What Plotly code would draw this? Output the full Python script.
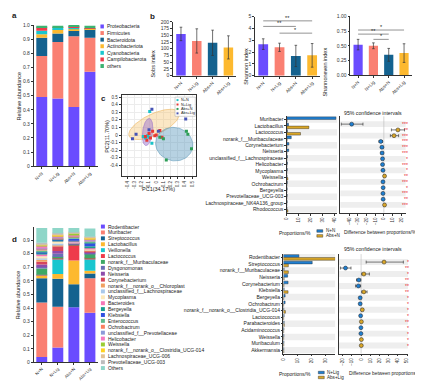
import numpy as np
import plotly.graph_objects as go

W, H = 423, 381
FONT = "Liberation Sans, Arial, sans-serif"

groups = ["N+N", "N+Lig", "Abs+N", "Abs+Lig"]
group_colors = ["#6a4cff", "#fa8072", "#14628f", "#fdb92f"]

# ---------------- panel a: phylum composition ----------------
a_phyla = ["Proteobacteria", "Firmicutes", "Bacteroidota", "Actinobacteriota",
           "Cyanobacteria", "Campilobacterota", "others"]
a_colors = ["#6a4cff", "#fa8072", "#14628f", "#fdb92f", "#19c6cf", "#ee3b4b", "#3cb371"]
a_values = [
    [0.49, 0.48, 0.42, 0.67],
    [0.29, 0.40, 0.50, 0.24],
    [0.13, 0.06, 0.04, 0.06],
    [0.025, 0.03, 0.01, 0.003],
    [0.025, 0.01, 0.015, 0.002],
    [0.025, 0.005, 0.003, 0.002],
    [0.01, 0.01, 0.007, 0.018],
]

# ---------------- panel b: alpha diversity ----------------
sobs_mean = [155, 129, 122, 105]
sobs_err = [25, 45, 47, 43]
shannon_mean = [2.67, 2.40, 1.67, 1.72]
shannon_err = [0.45, 0.35, 0.90, 1.00]
even_mean = [0.52, 0.50, 0.345, 0.375]
even_err = [0.09, 0.05, 0.11, 0.16]
shannon_sig = [[0, 3, 4.64, "**"], [0, 2, 4.17, "**"], [1, 3, 3.60, "*"]]
even_sig = [[0, 3, 0.77, "*"], [0, 2, 0.70, "**"], [1, 2, 0.61, "*"]]

# ---------------- panel c: PCA ----------------
pca_groups = ["N+N", "N+Lig", "Abs+N", "Abs+Lig"]
pca_colors = ["#19c3c9", "#e53935", "#2e9e57", "#4653b5"]
pca_x = [
    [-0.09, -0.18, -0.15, -0.12, -0.06, -0.10],
    [-0.10, -0.05, -0.02, 0.05, -0.13, -0.08, 0.00, -0.15, 0.08],
    [0.42, 0.44, 0.49, 0.14, 0.10, 0.05],
    [-0.06, 0.41, -0.33, -0.28, -0.10, 0.03],
]
pca_y = [
    [0.31, -0.02, -0.04, -0.01, -0.11, -0.03],
    [0.02, 0.05, -0.01, 0.06, -0.07, -0.04, 0.00, -0.02, -0.03],
    [0.05, 0.01, -0.18, -0.33, -0.05, -0.03],
    [0.34, 0.21, -0.05, 0.01, 0.07, 0.05],
]
# ellipses: center x, center y, semi-major, semi-minor, angle (deg)
ell_cx = [-0.03, 0.25, -0.12]
ell_cy = [0.14, -0.12, 0.04]
ell_a = [0.38, 0.26, 0.18]
ell_b = [0.14, 0.22, 0.07]
ell_ang = [24, -10, 82]
ell_fill = ["rgba(246,196,110,0.40)", "rgba(95,155,190,0.45)", "rgba(160,120,210,0.50)"]
ell_line = ["rgba(235,175,80,0.9)", "rgba(90,150,185,0.9)", "rgba(150,110,200,0.9)"]

# ---------------- panel c: Welch test N+N vs Abs+N ----------------
c_rows = ["Muribacter", "Lactobacillus", "Lactococcus", "norank_f__Muribaculaceae",
          "Corynebacterium", "Neisseria", "unclassified_f__Lachnospiraceae",
          "Helicobacter", "Mycoplasma", "Weissella", "Ochrobactrum", "Bergeyella",
          "Prevotellaceae_UCG-003", "Lachnospiraceae_NK4A136_group", "Rhodococcus"]
c_prop_a = [41, 1.5, 0.6, 3.8, 1.8, 1.7, 0.6, 0.6, 0.5, 0.3, 0.5, 0.4, 0.4, 0.4, 0.2]
c_prop_b = [0.3, 18.5, 11.5, 0.3, 0.1, 0.1, 0.1, 0.1, 0.1, 1.0, 0.1, 0.1, 0.1, 0.1, 1.0]
c_diff = [-37, 16.2, 11.7, -3.5, -2.2, -2.0, -1.5, -1.5, -1.0, 0.8, -1.0, -0.8, -1.0, -0.8, 0.8]
c_lo = [-49, 8.7, 7.5, -5.5, -3.2, -3.3, -2.3, -2.3, -1.8, 0.2, -1.8, -1.5, -1.7, -1.4, 0.3]
c_hi = [-24, 23.8, 17.0, -1.5, -1.0, -0.8, -0.7, -0.6, -0.3, 1.4, -0.3, -0.2, -0.4, -0.2, 1.4]
c_sig = ["***", "**", "***", "***", "***", "***", "*", "***", "*", "**", "***", "*", "***", "**", "***"]
c_legend = ["N+N", "Abs+N"]

# ---------------- panel d: genus composition ----------------
d_genera = ["Rodentibacter", "Muribacter", "Streptococcus", "Lactobacillus", "Veillonella",
            "Lactococcus", "norank_f__Muribaculaceae", "Dysgonomonas", "Neisseria",
            "Corynebacterium", "norank_f__norank_o__Chloroplast", "unclassified_f__Lachnospiraceae",
            "Mycoplasma", "Bacteroides", "Bergeyella", "Klebsiella", "Enterococcus",
            "Ochrobactrum", "unclassified_f__Prevotellaceae", "Helicobacter", "Weissella",
            "norank_f__norank_o__Clostridia_UCG-014", "Lachnospiraceae_UCG-006",
            "Prevotellaceae_UCG-003", "Others"]
d_colors = ["#6a4cff", "#fa8072", "#14628f", "#fdb92f", "#19c6cf", "#ee3b4b", "#3ea865",
            "#6b6fb5", "#8e4bab", "#d6455c", "#f0a060", "#a9c8ea", "#fde8b8", "#f777b8",
            "#1a9e8f", "#3050e0", "#5dbb8d", "#fa8060", "#8c9ad8", "#f57ac0", "#9acd32",
            "#ffd21f", "#e2c396", "#bdbdbd", "#8fd6c8"]
d_values = [
    [0.040, 0.110, 0.405, 0.365],
    [0.400, 0.300, 0.000, 0.255],
    [0.180, 0.205, 0.170, 0.035],
    [0.020, 0.035, 0.175, 0.020],
    [0.003, 0.110, 0.000, 0.085],
    [0.003, 0.005, 0.115, 0.005],
    [0.045, 0.010, 0.005, 0.035],
    [0.010, 0.025, 0.002, 0.005],
    [0.020, 0.020, 0.003, 0.010],
    [0.020, 0.035, 0.003, 0.005],
    [0.015, 0.010, 0.002, 0.005],
    [0.015, 0.010, 0.003, 0.005],
    [0.010, 0.015, 0.005, 0.005],
    [0.015, 0.005, 0.002, 0.005],
    [0.010, 0.005, 0.005, 0.015],
    [0.008, 0.005, 0.015, 0.025],
    [0.010, 0.005, 0.015, 0.010],
    [0.008, 0.005, 0.005, 0.005],
    [0.012, 0.005, 0.003, 0.005],
    [0.012, 0.008, 0.005, 0.005],
    [0.005, 0.004, 0.012, 0.003],
    [0.006, 0.008, 0.003, 0.008],
    [0.006, 0.005, 0.002, 0.004],
    [0.007, 0.005, 0.003, 0.005],
    [0.110, 0.040, 0.032, 0.060],
]

# ---------------- panel d: Welch test N+Lig vs Abs+Lig ----------------
d_rows = ["Rodentibacter", "Streptococcus", "norank_f__Muribaculaceae", "Neisseria",
          "Corynebacterium", "Klebsiella", "Bergeyella", "Ochrobactrum",
          "norank_f__norank_o__Clostridia_UCG-014", "Lactococcus", "Parabacteroides",
          "Acidaminococcus", "Weissella", "Muribaculum", "Akkermansia"]
d_prop_a = [11, 20.5, 0.5, 3.0, 3.3, 0.5, 1.2, 1.2, 0.3, 0.5, 0.5, 0.4, 0.4, 0.4, 0.3]
d_prop_b = [37, 3.5, 3.5, 0.5, 0.4, 3.3, 0.2, 0.2, 1.4, 0.2, 0.6, 0.2, 0.2, 0.3, 0.3]
d_diff = [25, -17, 3.0, -2.5, -3.0, 3.0, -1.0, -1.0, 1.3, -0.5, 0.3, -0.2, -0.2, 0.3, 0.2]
d_lo = [5.5, -22.5, 0.7, -5.0, -6.0, 0.7, -1.8, -1.8, 0.4, -1.0, -0.3, -0.7, -0.7, -0.2, -0.4]
d_hi = [46, -11, 9.0, -0.3, -0.5, 6.5, -0.2, -0.2, 2.5, 0.0, 0.9, 0.3, 0.3, 0.8, 0.8]
d_sig = ["*", "**", "*", "**", "**", "**", "*", "*", "*", "*", "**", "*", "*", "*", "*"]
d_legend = ["N+Lig", "Abs+Lig"]

CI_BLUE = "#1f7fd1"
CI_ORANGE = "#d9a628"
SIG_RED = "#e8242c"


def xd(p0, p1):
    return [p0 / W, p1 / W]


def yd(top, bot):
    return [1 - bot / H, 1 - top / H]


def px(x):
    return x / W


def py(y):
    return 1 - y / H


def base_axis(**kw):
    d = dict(showline=True, linecolor="#333", linewidth=0.8, ticks="outside", ticklen=2,
             tickwidth=0.6, tickcolor="#333", tickfont=dict(size=5, color="#333", family=FONT),
             showgrid=False, zeroline=False, fixedrange=True)
    d.update(kw)
    return d


fig = go.Figure()
lay = {}
shapes = []
anns = []


def ann(x, y, text, size=5, color="#222", angle=0, xanchor="center", yanchor="middle", bold=False):
    t = "<b>%s</b>" % text if bold else text
    anns.append(dict(x=px(x), y=py(y), xref="paper", yref="paper", text=t, showarrow=False,
                     textangle=angle, xanchor=xanchor, yanchor=yanchor,
                     font=dict(size=size, color=color, family=FONT)))


def rect(x0, y0, x1, y1, color, line="rgba(0,0,0,0)", lw=0):
    shapes.append(dict(type="rect", xref="paper", yref="paper", x0=px(x0), x1=px(x1),
                       y0=py(y1), y1=py(y0), fillcolor=color, line=dict(color=line, width=lw)))


gx = list(range(len(groups)))
GROUP_TICKFONT = dict(size=4.6, color="#333", family=FONT)

# ---------- panel a ----------
cum = np.zeros(len(groups))
for name, col, vals in zip(a_phyla, a_colors, a_values):
    fig.add_trace(go.Bar(x=gx, y=vals, base=cum.copy(), width=0.68, marker=dict(color=col, line=dict(width=0)),
                         xaxis="x", yaxis="y", showlegend=False, name=name))
    cum = cum + np.array(vals)
ticks01 = [round(0.1 * i, 1) for i in range(11)]
lay["xaxis"] = base_axis(domain=xd(23, 88), range=[-0.5, 3.5], tickvals=gx, ticktext=groups,
                         tickangle=-45, anchor="y", tickfont=GROUP_TICKFONT)
lay["yaxis"] = base_axis(domain=yd(14.3, 157.7), range=[0, 1.0], tickvals=ticks01,
                         ticktext=["0"] + [str(t) for t in ticks01[1:]], anchor="x")
for i, (name, col) in enumerate(zip(a_phyla, a_colors)):
    yy = 15.7 + i * 6.7
    rect(90.5, yy - 2, 94, yy + 2, col)
    ann(95, yy, name, size=5, xanchor="left")
ann(8, 86, "Relative abundance", size=5.5, angle=-90)
ann(4, 5, "a", size=8, bold=True)

# ---------- panel b ----------
bspecs = [
    ("x2", "y2", sobs_mean, sobs_err, xd(164, 228), yd(11, 65.7), [0, 200], list(range(0, 201, 25)),
     None, None, "Sobs index", 144),
    ("x3", "y3", shannon_mean, shannon_err, xd(247, 313), yd(5.7, 65.7), [0, 5], [0, 1, 2, 3, 4, 5],
     None, shannon_sig, "Shannon index", 237),
    ("x4", "y4", even_mean, even_err, xd(343.5, 405.5), yd(5.7, 65), [0, 1.0], [0, 0.25, 0.5, 0.75, 1.0],
     ["0.00", "0.25", "0.50", "0.75", "1.00"], even_sig, "Shannoneven index", 323),
]
for xa, ya, mean, err, xdom, ydom, yr, tv, tt, sig, title, tx in bspecs:
    fig.add_trace(go.Bar(x=gx, y=mean, width=0.6, marker=dict(color=group_colors, line=dict(width=0)),
                         error_y=dict(type="data", array=err, color="#333", thickness=0.7, width=1.3),
                         xaxis=xa, yaxis=ya, showlegend=False))
    n = xa[1:]
    lay["xaxis" + n] = base_axis(domain=xdom, range=[-0.5, 3.5], tickvals=gx, ticktext=groups,
                                 tickangle=-45, anchor=ya, tickfont=GROUP_TICKFONT)
    yax = base_axis(domain=ydom, range=yr, tickvals=tv, anchor=xa)
    if tt:
        yax["ticktext"] = tt
    lay["yaxis" + n] = yax
    ymid = (ydom[0] + ydom[1]) / 2
    anns.append(dict(x=px(tx), y=ymid, xref="paper", yref="paper", text=title, showarrow=False,
                     textangle=-90, font=dict(size=5.5, color="#222", family=FONT)))
    if sig:
        for g0, g1, yv, s in sig:
            fig.add_trace(go.Scatter(x=[g0, g1], y=[yv, yv], mode="lines", line=dict(color="#777", width=0.8),
                                     xaxis=xa, yaxis=ya, showlegend=False, hoverinfo="skip"))
            anns.append(dict(x=(g0 + g1) / 2, y=yv, xref=xa, yref=ya, text=s, showarrow=False,
                             yanchor="bottom", yshift=-2, font=dict(size=5.5, color="#222", family=FONT)))
ann(143, 6, "b", size=8, bold=True)

# ---------- panel c: PCA ----------
t = np.linspace(0, 2 * np.pi, 100)
for cx, cy, a, b, ang, fc, lc in zip(ell_cx, ell_cy, ell_a, ell_b, ell_ang, ell_fill, ell_line):
    th = np.deg2rad(ang)
    ex = cx + a * np.cos(t) * np.cos(th) - b * np.sin(t) * np.sin(th)
    ey = cy + a * np.cos(t) * np.sin(th) + b * np.sin(t) * np.cos(th)
    fig.add_trace(go.Scatter(x=ex, y=ey, mode="lines", fill="toself", fillcolor=fc,
                             line=dict(color=lc, width=0.6), xaxis="x5", yaxis="y5",
                             showlegend=False, hoverinfo="skip"))
for gname, col, xs, ys in zip(pca_groups, pca_colors, pca_x, pca_y):
    fig.add_trace(go.Scatter(x=xs, y=ys, mode="markers", marker=dict(color=col, size=3, symbol="square"),
                             xaxis="x5", yaxis="y5", showlegend=False, name=gname))
pca_ticks = [round(-0.4 + 0.1 * i, 1) for i in range(10)]
lay["xaxis5"] = base_axis(domain=xd(112, 187), range=[-0.48, 0.55], tickvals=pca_ticks,
                          ticktext=[("%g" % v) for v in pca_ticks], tickangle=-90, mirror=True,
                          showgrid=True, gridcolor="#ececec", gridwidth=0.5,
                          tickfont=dict(size=4.5, color="#333", family=FONT), anchor="y5")
lay["yaxis5"] = base_axis(domain=yd(85.5, 168), range=[-0.545, 0.526], tickvals=pca_ticks + [0.5],
                          ticktext=[("%g" % v) for v in pca_ticks + [0.5]], mirror=True,
                          showgrid=True, gridcolor="#ececec", gridwidth=0.5,
                          tickfont=dict(size=4.5, color="#333", family=FONT), anchor="x5")
rect(166, 87.5, 186.5, 107, "rgba(255,255,255,0.85)", "#999", 0.4)
for i, (gname, col) in enumerate(zip(pca_groups, pca_colors)):
    yy = 90.5 + i * 4.5
    rect(167.5, yy - 1, 169.5, yy + 1, col)
    ann(170.3, yy, gname, size=3.8, xanchor="left")
ann(97, 127, "PC2(11.70%)", size=5.5, angle=-90)
ann(149, 181, "PC1(34.17%)", size=5.5)
ann(94, 89, "c", size=8, bold=True)


# ---------- Welch panels (c right, d right) ----------
def welch(xb, yb, xc, yc, rows, pa, pb, diff, lo, hi, sig, xdom_b, xdom_c, ydom, rng_b, tv_b, rng_c, tv_c,
          sig_x, title_y, foot_y, legend_names, prop_x, diff_x, leg_x, leg_y0):
    nb, nc = xb[1:], xc[1:]
    fig.add_trace(go.Bar(y=rows, x=pa, orientation="h", width=0.4, offset=-0.42,
                         marker=dict(color=CI_BLUE, line=dict(color="#222", width=0.4)),
                         xaxis=xb, yaxis=yb, showlegend=False))
    fig.add_trace(go.Bar(y=rows, x=pb, orientation="h", width=0.4, offset=0.02,
                         marker=dict(color=CI_ORANGE, line=dict(color="#222", width=0.4)),
                         xaxis=xb, yaxis=yb, showlegend=False))
    d = np.array(diff)
    fig.add_trace(go.Scatter(x=diff, y=rows, mode="markers",
                             marker=dict(color=[CI_BLUE if v < 0 else CI_ORANGE for v in diff], size=4,
                                         line=dict(color="#222", width=0.5)),
                             error_x=dict(type="data", symmetric=False, array=list(np.array(hi) - d),
                                          arrayminus=list(d - np.array(lo)), color="#222", thickness=0.6,
                                          width=1.5),
                             xaxis=xc, yaxis=yc, showlegend=False))
    for i in range(len(rows)):
        if i % 2 == 0:
            for xa, ya in ((xb, yb), (xc, yc)):
                shapes.append(dict(type="rect", xref=xa + " domain", yref=ya, x0=0, x1=1, y0=i - 0.5,
                                   y1=i + 0.5, fillcolor="#eeeeee", line=dict(width=0), layer="below"))
        anns.append(dict(x=px(sig_x), y=rows[i], xref="paper", yref=yc, text=sig[i], showarrow=False,
                         font=dict(size=5, color=SIG_RED, family=FONT)))
    shapes.append(dict(type="line", xref=xc, yref=yc + " domain", x0=0, x1=0, y0=0, y1=1,
                       line=dict(color="#bbbbbb", width=0.6), layer="below"))
    lay["xaxis" + nb] = base_axis(domain=xdom_b, range=rng_b, tickvals=tv_b, tickangle=-90, anchor=yb,
                                  tickfont=dict(size=4.5, color="#333", family=FONT))
    lay["yaxis" + nb] = base_axis(domain=ydom, type="category", categoryorder="array", categoryarray=rows,
                                  autorange="reversed", anchor=xb, ticklen=1.5,
                                  tickfont=dict(size=5, color="#222", family=FONT))
    lay["xaxis" + nc] = base_axis(domain=xdom_c, range=rng_c, tickvals=tv_c, tickangle=-90, anchor=yc,
                                  tickfont=dict(size=4.5, color="#333", family=FONT))
    lay["yaxis" + nc] = base_axis(domain=ydom, type="category", categoryorder="array", categoryarray=rows,
                                  autorange="reversed", anchor=xc, showticklabels=False, ticks="")
    ann((xdom_c[0] + xdom_c[1]) / 2 * W, title_y, "95% confidence intervals", size=5.2)
    ann(prop_x, foot_y, "Proportions/%", size=5)
    ann(diff_x, foot_y, "Difference between proportions/%", size=4.8)
    for k, (nm, col) in enumerate(zip(legend_names, [CI_BLUE, CI_ORANGE])):
        yy = leg_y0 + k * 5
        rect(leg_x, yy - 1.3, leg_x + 6, yy + 1.3, col, "#222", 0.4)
        ann(leg_x + 7, yy, nm, size=4.6, xanchor="left")


welch("x6", "y6", "x7", "y7", c_rows, c_prop_a, c_prop_b, c_diff, c_lo, c_hi, c_sig,
      xd(279, 330), xd(333.3, 399.3), yd(107, 205), [0, 42], [0, 10, 20, 30, 40],
      [-50, 25], [-40, -30, -20, -10, 0, 10, 20], 404, 104, 225.5, c_legend, 287, 374, 309.5, 223.5)

welch("x9", "y9", "x10", "y10", d_rows, d_prop_a, d_prop_b, d_diff, d_lo, d_hi, d_sig,
      xd(275.7, 328), xd(331.7, 401.7), yd(247, 348), [0, 36.8], [0, 10, 20, 30],
      [-24.3, 51], [-20, -10, 0, 10, 20, 30, 40, 50], 405, 242, 368.5, d_legend, 287, 379, 311, 367.3)

# ---------- panel d stacked ----------
cum = np.zeros(len(groups))
for name, col, vals in zip(d_genera, d_colors, d_values):
    fig.add_trace(go.Bar(x=gx, y=vals, base=cum.copy(), width=0.68, marker=dict(color=col, line=dict(width=0)),
                         xaxis="x8", yaxis="y8", showlegend=False, name=name))
    cum = cum + np.array(vals)
lay["xaxis8"] = base_axis(domain=xd(23, 88), range=[-0.5, 3.5], tickvals=gx, ticktext=groups,
                          tickangle=-45, anchor="y8", tickfont=dict(size=4.3, color="#333", family=FONT),
                          ticklen=1.5)
lay["yaxis8"] = base_axis(domain=yd(219, 357), range=[0, 1.0], tickvals=ticks01[:10],
                          ticktext=["0"] + [str(t) for t in ticks01[1:10]], anchor="x8")
for i, (name, col) in enumerate(zip(d_genera, d_colors)):
    yy = 219 + i * 5.99
    rect(91, yy - 2, 95, yy + 2, col)
    ann(96.5, yy, name, size=5, xanchor="left")
ann(8, 288, "Relative abundance", size=5.5, angle=-90)
ann(4, 232, "d", size=8, bold=True)

fig.update_layout(**lay)
fig.update_layout(width=W, height=H, autosize=False, margin=dict(l=0, r=0, t=0, b=0),
                  paper_bgcolor="white", plot_bgcolor="rgba(0,0,0,0)", barmode="overlay",
                  font=dict(family=FONT, size=5, color="#222"), shapes=shapes, annotations=anns,
                  showlegend=False)
fig.write_html("out.html", config={"displayModeBar": False})
